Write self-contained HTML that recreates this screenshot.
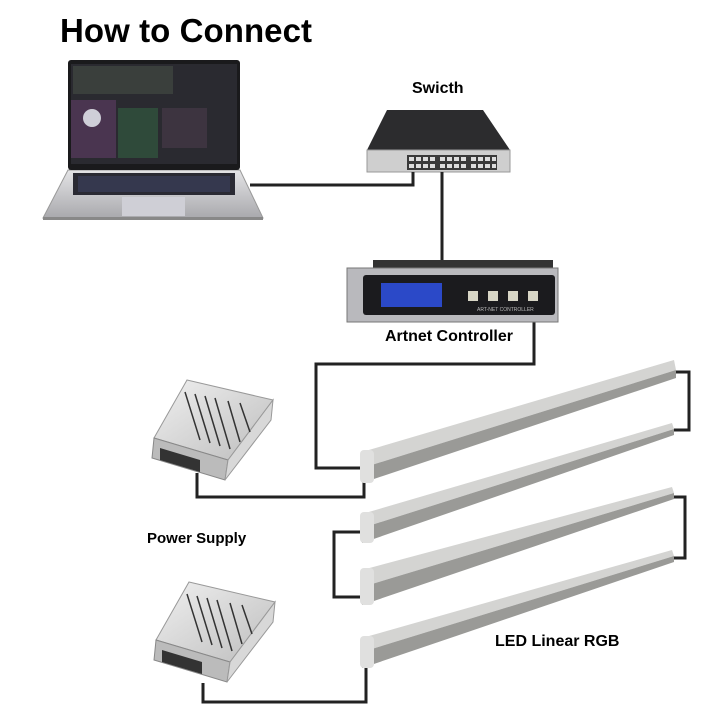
<!DOCTYPE html>
<html><head><meta charset="utf-8"><style>
html,body{margin:0;padding:0;background:#fff;}
svg{display:block;font-family:"Liberation Sans",sans-serif;font-weight:bold;}
</style></head><body>
<svg width="720" height="720" viewBox="0 0 720 720" xmlns="http://www.w3.org/2000/svg">
<defs>
<linearGradient id="silver" x1="0" y1="0" x2="0" y2="1">
<stop offset="0" stop-color="#e4e4e6"/><stop offset="1" stop-color="#a9a9ad"/>
</linearGradient>
<linearGradient id="psu" x1="0" y1="0" x2="1" y2="1">
<stop offset="0" stop-color="#f0f0f0"/><stop offset="1" stop-color="#bdbdbd"/>
</linearGradient>
</defs>

<text x="60" y="42" font-size="33" textLength="252" fill="#000">How to Connect</text>

<!-- laptop -->
<polygon points="68,170 240,170 263,218 43,218" fill="url(#silver)" stroke="#999" stroke-width="1"/>
<rect x="43" y="217" width="220" height="3" fill="#888"/>
<rect x="68" y="60" width="172" height="110" rx="3" fill="#1a1a1c"/>
<rect x="71" y="64" width="166" height="100" fill="#2a2a30"/>
<rect x="73" y="66" width="100" height="28" fill="#3a3f3c"/>
<rect x="71" y="100" width="45" height="58" fill="#4a3550"/>
<circle cx="92" cy="118" r="9" fill="#cfcfd8"/>
<rect x="118" y="108" width="40" height="50" fill="#2f4a3a"/>
<rect x="162" y="108" width="45" height="40" fill="#3d3440"/>
<rect x="73" y="173" width="162" height="22" fill="#2a2a33"/>
<rect x="78" y="176" width="152" height="16" fill="#3b3f5a" opacity="0.7"/>
<rect x="122" y="197" width="63" height="19" fill="#cfcfd6"/>

<!-- switch -->
<text x="412" y="93" font-size="16">Swicth</text>
<polygon points="387,110 483,110 510,150 367,150" fill="#2c2c2e"/>
<rect x="367" y="150" width="143" height="22" fill="#cfcfcf" stroke="#999"/>
<rect x="407" y="155" width="90" height="15" fill="#3a3a3a"/>
<g fill="#ddd">
<rect x="409" y="157" width="5" height="4"/><rect x="416" y="157" width="5" height="4"/><rect x="423" y="157" width="5" height="4"/><rect x="430" y="157" width="5" height="4"/><rect x="440" y="157" width="5" height="4"/><rect x="447" y="157" width="5" height="4"/><rect x="454" y="157" width="5" height="4"/><rect x="461" y="157" width="5" height="4"/><rect x="471" y="157" width="5" height="4"/><rect x="478" y="157" width="5" height="4"/><rect x="485" y="157" width="5" height="4"/><rect x="492" y="157" width="4" height="4"/>
<rect x="409" y="164" width="5" height="4"/><rect x="416" y="164" width="5" height="4"/><rect x="423" y="164" width="5" height="4"/><rect x="430" y="164" width="5" height="4"/><rect x="440" y="164" width="5" height="4"/><rect x="447" y="164" width="5" height="4"/><rect x="454" y="164" width="5" height="4"/><rect x="461" y="164" width="5" height="4"/><rect x="471" y="164" width="5" height="4"/><rect x="478" y="164" width="5" height="4"/><rect x="485" y="164" width="5" height="4"/><rect x="492" y="164" width="4" height="4"/>
</g>

<!-- wires -->
<g fill="none" stroke="#222" stroke-width="3">
<polyline points="250,185 413,185 413,172"/>
<line x1="442" y1="172" x2="442" y2="260"/>
<polyline points="534,322 534,364 316,364 316,468 364,468"/>
<polyline points="197,473 197,497 364,497 364,478"/>
<polyline points="676,372 689,372 689,430 674,430"/>
<polyline points="364,532 334,532 334,597 364,597"/>
<polyline points="674,497 685,497 685,558 674,558"/>
<polyline points="203,683 203,702 366,702 366,663"/>
</g>

<!-- controller -->
<rect x="373" y="260" width="180" height="9" fill="#333"/>
<rect x="347" y="268" width="211" height="54" fill="#b9b9bd" stroke="#777"/>
<rect x="363" y="275" width="192" height="40" rx="3" fill="#1b1b1e"/>
<rect x="381" y="283" width="61" height="24" fill="#2b49c8"/>
<g fill="#d8d6c6"><rect x="468" y="291" width="10" height="10"/><rect x="488" y="291" width="10" height="10"/><rect x="508" y="291" width="10" height="10"/><rect x="528" y="291" width="10" height="10"/></g>
<text x="477" y="311" font-size="5" fill="#bbb" font-weight="normal">ART-NET CONTROLLER</text>
<text x="385" y="341" font-size="16">Artnet Controller</text>

<!-- tubes: upper light band, lower darker band -->
<g>
<polygon points="362,452 674,360 676,370 362,468" fill="#d4d4d2"/>
<polygon points="362,468 676,370 676,378 362,483" fill="#9a9a97"/>
<rect x="360" y="450" width="14" height="33" rx="4" fill="#e0e0df"/>

<polygon points="362,514 672,423 674,429 362,528" fill="#d4d4d2"/>
<polygon points="362,528 674,429 674,435 362,543" fill="#9a9a97"/>
<rect x="360" y="512" width="14" height="31" rx="4" fill="#e0e0df"/>

<polygon points="362,570 672,487 674,493 362,587" fill="#d4d4d2"/>
<polygon points="362,587 674,493 674,499 362,605" fill="#9a9a97"/>
<rect x="360" y="568" width="14" height="37" rx="4" fill="#e0e0df"/>

<polygon points="362,638 672,550 674,556 362,652" fill="#d4d4d2"/>
<polygon points="362,652 674,556 674,562 362,668" fill="#9a9a97"/>
<rect x="360" y="636" width="14" height="32" rx="4" fill="#e0e0df"/>
</g>

<!-- power supplies -->
<g id="ps">
<polygon points="187,380 273,400 228,460 154,438" fill="url(#psu)" stroke="#999"/>
<polygon points="154,438 228,460 225,480 152,458" fill="#bbb" stroke="#888"/>
<polygon points="228,460 273,400 271,420 225,480" fill="#d8d8d8" stroke="#999"/>
<polygon points="160,448 200,460 200,472 160,460" fill="#333"/>
<g stroke="#333" stroke-width="1.5">
<line x1="185" y1="392" x2="200" y2="440"/><line x1="195" y1="394" x2="210" y2="443"/><line x1="205" y1="396" x2="220" y2="446"/><line x1="215" y1="398" x2="230" y2="449"/><line x1="228" y1="401" x2="240" y2="442"/><line x1="240" y1="403" x2="250" y2="432"/>
</g>
</g>
<use href="#ps" transform="translate(2,202)"/>

<text x="147" y="543" font-size="15">Power Supply</text>
<text x="495" y="646" font-size="16">LED Linear RGB</text>
</svg>
</body></html>
